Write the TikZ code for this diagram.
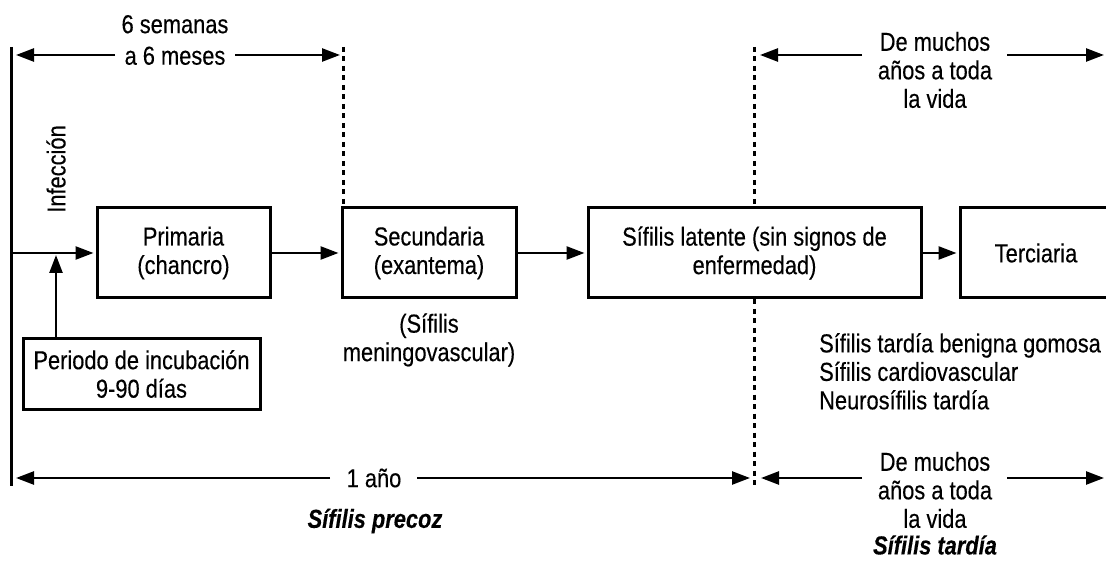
\documentclass[tikz,border=0pt]{standalone}
\usepackage{fontspec}
\setmainfont[FakeStretch=0.84,FakeBold=0.3]{Liberation Sans}
\usetikzlibrary{arrows.meta}
\begin{document}
\begin{tikzpicture}[x=1pt,y=-1pt,
  every node/.style={font=\fontsize{26}{28.5}\selectfont, inner sep=0pt},
  stage/.style={draw, line width=3pt, fill=white, minimum height=90pt, align=center},
  arr/.style={line width=2.5pt, shorten >=2pt, -{Triangle[length=18pt,width=13pt]}},
  axis/.style={line width=3pt},
  dots/.style={line width=3pt, dash pattern=on 5pt off 4.5pt},
  lbl/.style={align=center},
  ttl/.style={font=\fontsize{26}{28.5}\selectfont\bfseries\itshape}
]
\clip (0,0) rectangle (1106,561);
\fill[white] (0,0) rectangle (1106,561);

% stage boxes
\node[stage, minimum width=173pt] (prim) at (183.5,253) {Primaria\\(chancro)};
\node[stage, minimum width=174pt] (sec) at (429,253) {Secundaria\\(exantema)};
\node[stage, minimum width=333pt] (lat) at (754.5,253) {Sífilis latente (sin signos de\\enfermedad)};
\node[stage, minimum width=152pt] (ter) at (1036,253) {Terciaria};
\node[draw, line width=3pt, minimum width=237pt, minimum height=70pt, align=center] (inc) at (141.5,374) {Periodo de incubación\\9-90 días};

% reference coordinates
\coordinate (vt) at (11,47);
\coordinate (vb) at (11,486);
\coordinate (d1t) at (343,47);
\coordinate (d2t) at (754,47);
\coordinate (d2b) at (754,486);
\coordinate (m0) at (11,253);
\coordinate (j) at (56,253);

% vertical lines
\draw[axis] (vt) -- (vb);
\draw[dots] (d1t) -- (d1t |- sec.north);
\draw[dots] (d2t) -- (d2t |- lat.north);
\draw[dots] (d2t |- lat.south) -- (d2b);

% main flow
\draw[arr] (m0) -- (prim.west);
\draw[arr] (prim.east) -- (sec.west);
\draw[arr] (sec.east) -- (lat.west);
\draw[arr] (lat.east) -- (ter.west);
\draw[arr] (j |- inc.north) -- (j);

\node[rotate=90] (inf) at (56,169) {Infección};

% top-left span
\node[lbl] (t1) at (175,40) {6 semanas\\[3pt]a 6 meses};
\coordinate (t1l) at (115,55); \coordinate (t1r) at (235,55);
\coordinate (t1a) at (14,55); \coordinate (t1b) at (342,55);
\draw[arr] (t1l) -- (t1a);
\draw[arr] (t1r) -- (t1b);

% top-right span
\node[lbl] (t2) at (935,70) {De muchos\\años a toda\\la vida};
\coordinate (t2l) at (862,55); \coordinate (t2r) at (1007,55);
\coordinate (t2a) at (758,55); \coordinate (t2b) at (1106,55);
\draw[arr] (t2l) -- (t2a);
\draw[arr] (t2r) -- (t2b);

% bottom-left span
\node (b1) at (374,478) {1 año};
\coordinate (b1l) at (330,478); \coordinate (b1r) at (417,478);
\coordinate (b1a) at (14,478); \coordinate (b1b) at (752,478);
\draw[arr] (b1l) -- (b1a);
\draw[arr] (b1r) -- (b1b);
\node[ttl] (precoz) at (375,521) {Sífilis precoz};

% bottom-right span
\node[lbl] (b2) at (935,490) {De muchos\\años a toda\\la vida};
\coordinate (b2l) at (862,478); \coordinate (b2r) at (1007,478);
\coordinate (b2a) at (759,478); \coordinate (b2b) at (1106,478);
\draw[arr] (b2l) -- (b2a);
\draw[arr] (b2r) -- (b2b);
\node[ttl] (tardia) at (935,545) {Sífilis tardía};

% other labels
\node[lbl] (meningo) at (429,340) {(Sífilis\\meningovascular)};
\node[align=left, anchor=north west] (list) at (819,333) {Sífilis tardía benigna gomosa\\Sífilis cardiovascular\\Neurosífilis tardía};
\end{tikzpicture}
\end{document}
